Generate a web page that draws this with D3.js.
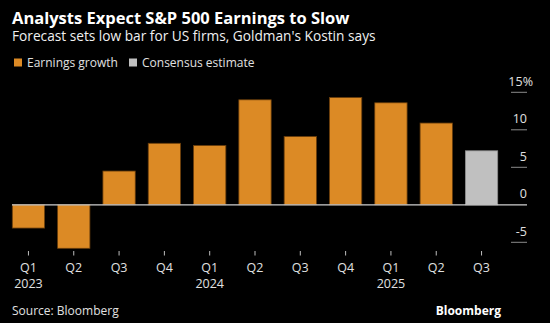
<!DOCTYPE html>
<html>
<head>
<meta charset="utf-8">
<script src="https://cdn.jsdelivr.net/npm/d3@7"></script>
<style>
  html, body { margin: 0; padding: 0; background: #000; }
  svg { display: block; font-family: "Open Sans", sans-serif; }
</style>
</head>
<body>
<div id="chart"></div>
<script>
const quarters = ["Q1", "Q2", "Q3", "Q4", "Q1", "Q2", "Q3", "Q4", "Q1", "Q2", "Q3"];
const years = ["2023", "", "", "", "2024", "", "", "", "2025", "", ""];
const growth = [-3.1, -5.8, 4.5, 8.2, 7.9, 14.0, 9.1, 14.3, 13.6, 10.9, 7.2];
const isEstimate = [false, false, false, false, false, false, false, false, false, false, true];
const yTicks = [-5, 0, 5, 10, 15];

const width = 550;
const height = 323;
const orange = "#dc8a25";
const grey = "#c0c0c0";

const svg = d3.select("#chart").append("svg")
  .attr("width", width)
  .attr("height", height);

svg.append("rect").attr("width", width).attr("height", height).attr("fill", "#000");

// headline block
svg.append("text")
  .attr("x", 12).attr("y", 24)
  .attr("fill", "#fff")
  .attr("font-size", 16.5)
  .attr("font-weight", 700)
  .text("Analysts Expect S&P 500 Earnings to Slow");

svg.append("text")
  .attr("x", 12).attr("y", 41)
  .attr("fill", "#f0f0f0")
  .attr("font-size", 13.7)
  .text("Forecast sets low bar for US firms, Goldman's Kostin says");

const legend = [
  { label: "Earnings growth", color: orange, x: 14 },
  { label: "Consensus estimate", color: grey, x: 129 }
];
const lg = svg.append("g").selectAll("g").data(legend).join("g")
  .attr("transform", d => `translate(${d.x},58.5)`);
lg.append("rect").attr("width", 8).attr("height", 8).attr("fill", d => d.color);
lg.append("text")
  .attr("x", 13).attr("y", 8)
  .attr("fill", "#e0e0e0")
  .attr("font-size", 12)
  .text(d => d.label);

const idx = d3.range(growth.length);

const x = d3.scaleBand()
  .domain(idx)
  .range([12.3, 497.7])
  .paddingInner(0.287)
  .paddingOuter(0);

const y = d3.scaleLinear()
  .domain([-5, 15])
  .range([242.3, 92.3]);

// short gridlines beside the right-hand labels
const axisX0 = 511;
const axisX1 = 527;
svg.append("g").selectAll("line")
  .data(yTicks.filter(d => d !== 0))
  .join("line")
  .attr("x1", axisX0).attr("x2", axisX1)
  .attr("y1", d => y(d)).attr("y2", d => y(d))
  .attr("stroke", "#8a8a8a")
  .attr("stroke-width", 1);

svg.append("g").selectAll("text")
  .data(yTicks)
  .join("text")
  .attr("x", d => d === 15 ? 533 : 527)
  .attr("y", d => y(d) - 6.5)
  .attr("text-anchor", "end")
  .attr("fill", "#e0e0e0")
  .attr("font-size", 12.5)
  .text(d => d === 15 ? "15%" : d < 0 ? "-" + Math.abs(d) : d);

// bars
svg.append("g").selectAll("rect")
  .data(idx)
  .join("rect")
  .attr("x", i => x(i))
  .attr("width", x.bandwidth())
  .attr("y", i => y(Math.max(0, growth[i])))
  .attr("height", i => Math.abs(y(growth[i]) - y(0)))
  .attr("fill", i => isEstimate[i] ? grey : orange)
  .attr("stroke", i => isEstimate[i] ? "#8c8c8c" : "#6a3e0c")
  .attr("stroke-width", 0.8);

// zero line
svg.append("line")
  .attr("x1", 12).attr("x2", axisX1)
  .attr("y1", y(0)).attr("y2", y(0))
  .attr("stroke", "#cfcfcf")
  .attr("stroke-width", 1.3);

// category axis
const xAxis = svg.append("g")
  .attr("transform", "translate(0,250)");
xAxis.selectAll("line")
  .data(idx)
  .join("line")
  .attr("x1", i => x(i) + x.bandwidth() / 2)
  .attr("x2", i => x(i) + x.bandwidth() / 2)
  .attr("y1", 1).attr("y2", 5.5)
  .attr("stroke", "#bdbdbd");
xAxis.selectAll("text.q")
  .data(idx)
  .join("text")
  .attr("class", "q")
  .attr("x", i => x(i) + x.bandwidth() / 2)
  .attr("y", 22)
  .attr("text-anchor", "middle")
  .attr("fill", "#e0e0e0")
  .attr("font-size", 12.5)
  .text(i => quarters[i]);
xAxis.selectAll("text.yr")
  .data(idx.filter(i => years[i]))
  .join("text")
  .attr("class", "yr")
  .attr("x", i => x(i) + x.bandwidth() / 2)
  .attr("y", 38)
  .attr("text-anchor", "middle")
  .attr("fill", "#e0e0e0")
  .attr("font-size", 12.5)
  .text(i => years[i]);

// footer
svg.append("text")
  .attr("x", 12).attr("y", 315)
  .attr("fill", "#e0e0e0")
  .attr("font-size", 12)
  .text("Source: Bloomberg");

svg.append("text")
  .attr("x", 501).attr("y", 315)
  .attr("text-anchor", "end")
  .attr("fill", "#fff")
  .attr("font-size", 12)
  .attr("font-weight", 700)
  .text("Bloomberg");
</script>
</body>
</html>
